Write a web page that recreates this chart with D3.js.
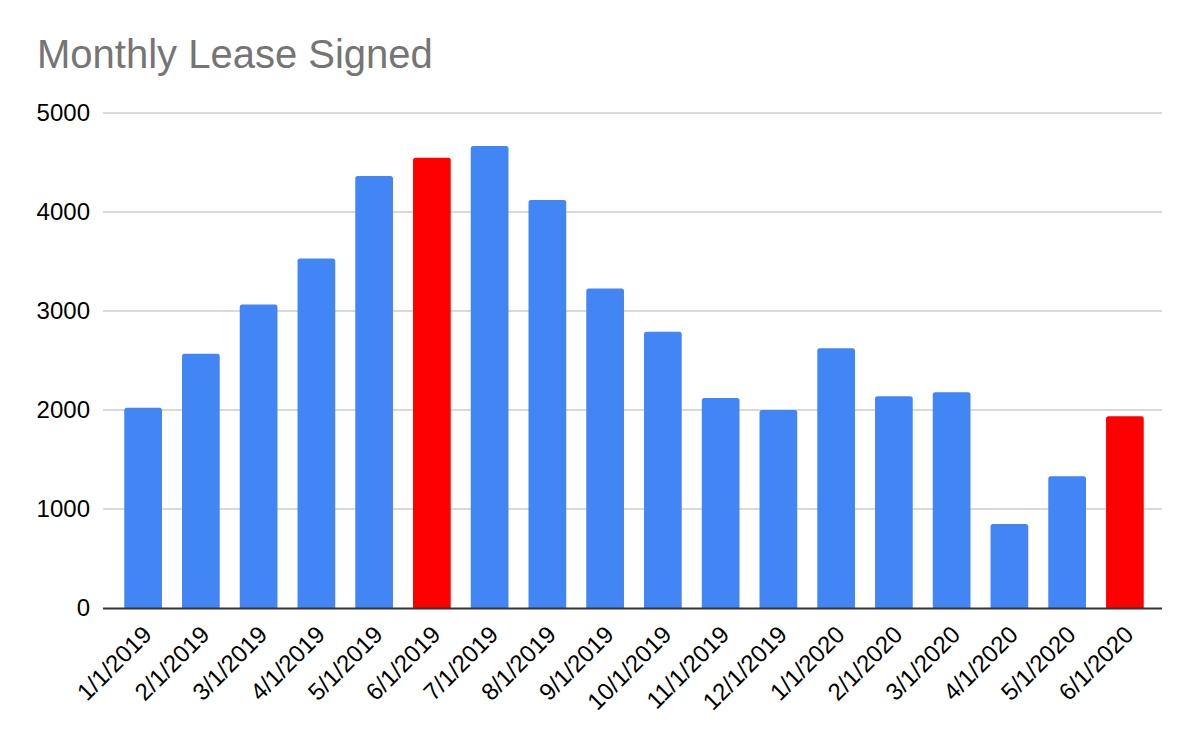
<!DOCTYPE html>
<html>
<head>
<meta charset="utf-8">
<script src="https://cdn.jsdelivr.net/npm/d3@7"></script>
<style>
  html, body { margin: 0; padding: 0; background: #fff; }
  svg { display: block; font-family: Arial, "Liberation Sans", Helvetica, sans-serif; }
</style>
</head>
<body>
<svg id="chart"></svg>
<script>
// chart data
const months = ["1/1/2019", "2/1/2019", "3/1/2019", "4/1/2019", "5/1/2019", "6/1/2019",
  "7/1/2019", "8/1/2019", "9/1/2019", "10/1/2019", "11/1/2019", "12/1/2019",
  "1/1/2020", "2/1/2020", "3/1/2020", "4/1/2020", "5/1/2020", "6/1/2020"];
const leases = [2022, 2568, 3066, 3530, 4363, 4547, 4667, 4121, 3227, 2790, 2120,
  2001, 2625, 2140, 2180, 848, 1332, 1938];
const highlighted = ["6/1/2019", "6/1/2020"];
const yTicks = [0, 1000, 2000, 3000, 4000, 5000];

const width = 1200;
const height = 742;
const plotLeft = 103, plotRight = 1162, plotTop = 113, plotBottom = 608;

const svg = d3.select("#chart").attr("width", width).attr("height", height);

svg.append("text")
    .attr("x", 37)
    .attr("y", 68)
    .attr("fill", "#757575")
    .style("font-size", "40px")
    .text("Monthly Lease Signed");

const x = d3.scaleBand()
    .domain(months)
    .range([plotLeft, 1165])
    .paddingInner(0.347)
    .paddingOuter(0.368);

const y = d3.scaleLinear()
    .domain([0, 5000])
    .range([plotBottom, plotTop]);

// gridlines
svg.append("g")
    .selectAll("line")
    .data(yTicks.filter(d => d > 0))
    .enter().append("line")
    .attr("x1", plotLeft)
    .attr("x2", plotRight)
    .attr("y1", d => y(d))
    .attr("y2", d => y(d))
    .attr("stroke", "#cccccc")
    .attr("stroke-width", 1.6);

// y labels
svg.append("g")
    .selectAll("text")
    .data(yTicks)
    .enter().append("text")
    .attr("x", 90)
    .attr("y", d => y(d))
    .attr("dy", "0.35em")
    .attr("text-anchor", "end")
    .attr("fill", "#000")
    .style("font-size", "24px")
    .text(d => d);

// bars with slightly rounded top corners
const r = 2.5;
function barPath(d, i) {
    const x0 = x(months[i]);
    const w = x.bandwidth();
    const y0 = y(d);
    const yb = y(0);
    return "M" + x0 + "," + yb +
        "V" + (y0 + r) +
        "Q" + x0 + "," + y0 + " " + (x0 + r) + "," + y0 +
        "H" + (x0 + w - r) +
        "Q" + (x0 + w) + "," + y0 + " " + (x0 + w) + "," + (y0 + r) +
        "V" + yb + "Z";
}

svg.append("g")
    .selectAll("path")
    .data(leases)
    .enter().append("path")
    .attr("d", barPath)
    .attr("fill", (d, i) => highlighted.includes(months[i]) ? "#ff0000" : "#4285f4");

// baseline
svg.append("line")
    .attr("x1", plotLeft)
    .attr("x2", plotRight)
    .attr("y1", plotBottom + 0.5)
    .attr("y2", plotBottom + 0.5)
    .attr("stroke", "#333333")
    .attr("stroke-width", 2);

// x labels, rotated
svg.append("g")
    .selectAll("text")
    .data(months)
    .enter().append("text")
    .attr("transform", d => "translate(" + (x(d) + x.bandwidth() / 2 + 10) + "," + 636 + ")rotate(-45)")
    .attr("text-anchor", "end")
    .attr("fill", "#000")
    .style("font-size", "24px")
    .text(d => d);
</script>
</body>
</html>
